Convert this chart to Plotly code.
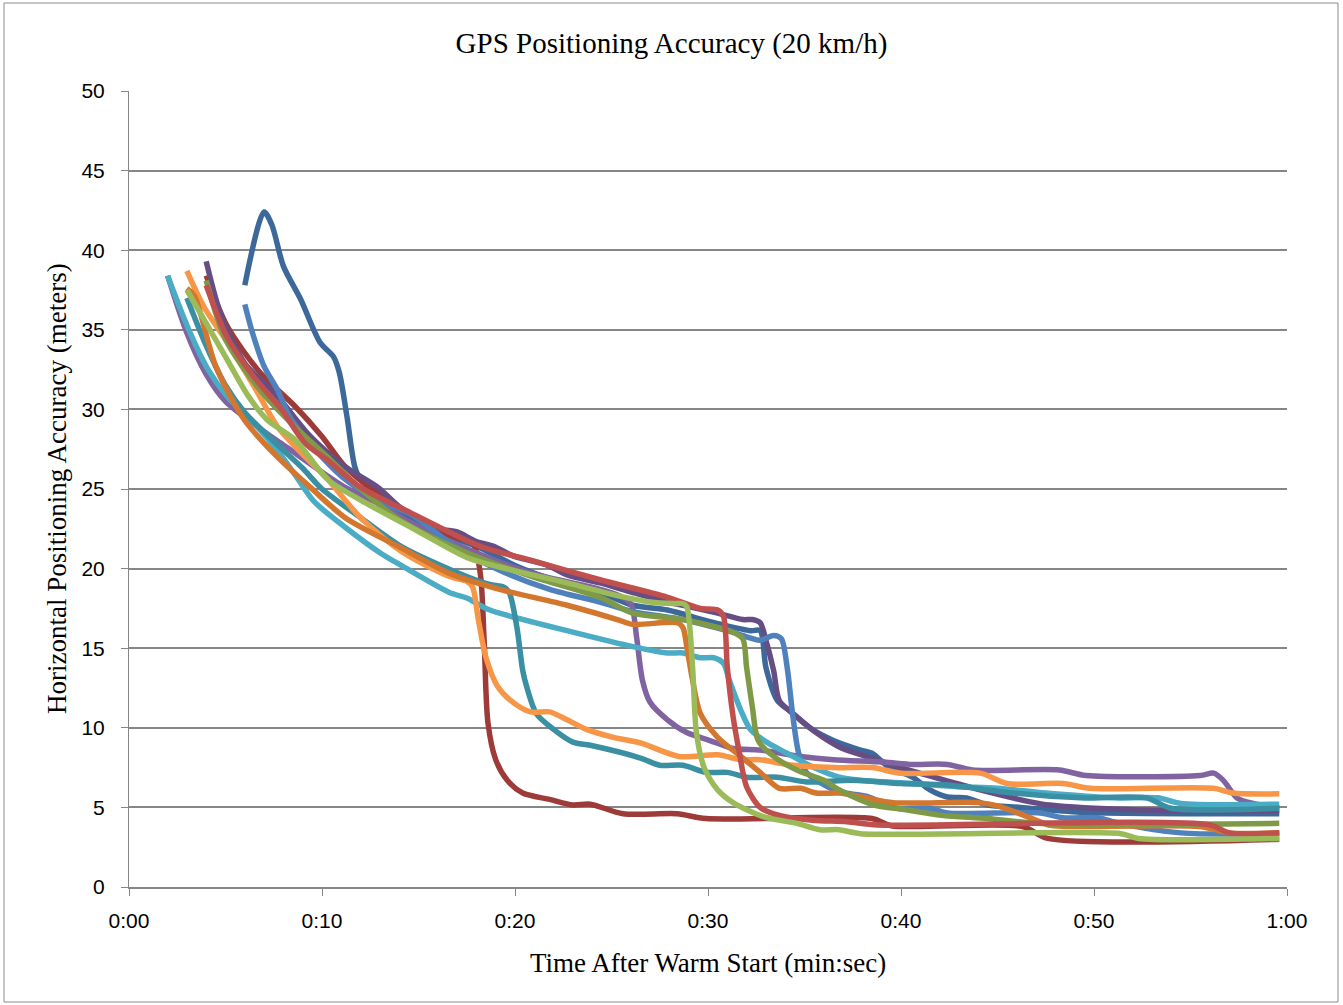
import plotly.graph_objects as go

# ---- data (seconds after warm start, horizontal accuracy in meters) ----
t_blue = [6, 6.4, 7, 7.7, 8.3, 9, 10, 11.2, 12.9, 14.6, 17, 19.2, 21.8, 24.4, 26.1, 28.7, 31.3, 32.7, 33.4, 33.8, 34.1, 34.4, 34.7, 35.1, 36.2, 37.2, 38.2, 39.8, 41.5, 42.4, 47.2, 48.4, 50.2, 51.3, 54.5, 59.6]
v_blue = [36.6, 34.8, 32.7, 31.2, 29.6, 28.4, 27.0, 25.6, 24.3, 23.4, 21.3, 19.9, 18.7, 17.9, 17.3, 16.8, 16.0, 15.5, 15.8, 15.6, 13.8, 10.7, 8.4, 7.2, 6.3, 5.9, 5.7, 4.95, 4.95, 4.65, 4.65, 4.35, 4.35, 4.0, 3.4, 3.35]

t_red = [4, 5.1, 6.5, 7.9, 9.1, 10.3, 12, 14.6, 18.2, 20.9, 24.4, 27.9, 29.6, 30.5, 30.8, 31.0, 31.3, 31.6, 32.0, 32.7, 33.7, 35.4, 37.2, 38.8, 56, 57, 59.6]
v_red = [37.8, 34.5, 32.0, 30.0, 27.9, 26.8, 25.1, 23.5, 21.4, 20.5, 19.3, 18.2, 17.5, 17.4, 17.0, 13.8, 10.7, 8.6, 6.3, 5.0, 4.5, 4.2, 4.1, 3.9, 3.9, 3.4, 3.4]

t_green = [3, 4.1, 5.1, 6.2, 7.2, 8.6, 10.3, 12, 14.6, 17.5, 19.2, 22.7, 25.3, 27, 28.2, 28.7, 28.9, 29.2, 29.4, 29.8, 30.5, 31.3, 32.9, 34.6, 35.8, 36.8, 37.9, 51.4, 52.3, 59.6]
v_green = [37.5, 35.2, 33.1, 30.8, 29.3, 28.1, 25.6, 24.3, 22.6, 20.7, 20.1, 19.1, 18.3, 17.9, 17.8, 17.8, 17.6, 13.8, 9.7, 7.5, 6.1, 5.3, 4.4, 4.0, 3.6, 3.6, 3.35, 3.35, 3.05, 3.05]

t_purple = [2, 3, 4, 5, 6.9, 8.2, 9.6, 11.2, 12.9, 14.6, 18, 20.9, 24.4, 25.4, 26, 26.3, 26.6, 27, 27.9, 28.9, 30.1, 31.3, 32.7, 34.8, 36.5, 39.1, 40.6, 42.4, 43.7, 48.2, 49.6, 55.5, 56.2, 56.7, 57.4, 57.9, 59.6]
v_purple = [38.4, 34.8, 32.2, 30.5, 28.7, 27.6, 26.4, 25.1, 24.1, 22.9, 21.0, 19.7, 18.7, 18.3, 17.8, 15.7, 13.0, 11.6, 10.5, 9.7, 9.2, 8.7, 8.6, 8.2, 8.0, 7.85, 7.7, 7.7, 7.35, 7.35, 7.0, 7.0, 7.15, 6.7, 5.6, 5.35, 4.95]

t_aqua = [2, 3.1, 4.1, 5.1, 6.5, 7.7, 8.6, 9.6, 11.2, 13, 14.1, 16.6, 17.5, 18.5, 19.2, 22.7, 26.1, 27.9, 28.7, 29.6, 30.3, 30.8, 31.1, 31.7, 32.2, 33.1, 34.1, 35.4, 36.8, 37.9, 40.6, 42.9, 45, 47.5, 51, 53.3, 54.5, 59.6]
v_aqua = [38.4, 35.0, 32.5, 30.8, 29.1, 27.4, 25.9, 24.2, 22.6, 21.0, 20.2, 18.5, 18.15, 17.5, 17.2, 16.1, 15.1, 14.7, 14.7, 14.4, 14.4, 14.05, 13.0, 11.1, 9.9, 9.05, 8.4, 7.55, 6.9, 6.7, 6.5, 6.3, 6.2, 5.9, 5.6, 5.6, 5.25, 5.2]

t_orange = [3, 3.9, 5.1, 6.5, 7.7, 8.9, 10.3, 12, 14.1, 16.6, 17.5, 17.8, 18.1, 18.5, 19.1, 19.9, 20.8, 21.8, 22.7, 23.7, 25.1, 26.5, 28.5, 30.5, 31.7, 32.7, 34.1, 36.5, 38.5, 40, 44.1, 45.5, 48.4, 49.8, 56.2, 57.2, 59.6]
v_orange = [38.7, 36.4, 34.2, 31.4, 28.9, 27.3, 25.6, 23.2, 21.1, 19.5, 19.2, 18.85, 16.8, 14.4, 12.6, 11.6, 11.0, 11.0, 10.5, 9.9, 9.4, 9.05, 8.2, 8.3, 8.0, 8.0, 7.7, 7.5, 7.5, 7.15, 7.15, 6.5, 6.5, 6.2, 6.2, 5.9, 5.85]

t_dblue = [6, 7, 7.4, 8, 8.9, 9.9, 10.6, 10.9, 11.3, 11.7, 12, 13, 14.1, 16, 18.2, 20, 22, 24.4, 26.1, 27.9, 30, 32.2, 32.7, 33, 33.6, 34.2, 35.4, 36.5, 37.9, 38.5, 39.3, 40.6, 41.5, 42.4, 43.4, 44.5, 46.2, 49.3, 59.6]
v_dblue = [37.8, 42.4, 41.6, 39.0, 36.9, 34.2, 33.3, 32.3, 29.5, 26.4, 25.6, 24.6, 23.5, 22.3, 21.3, 20.2, 19.3, 18.5, 17.7, 17.4, 16.7, 16.1, 16.1, 13.8, 11.7, 11.1, 9.9, 9.2, 8.6, 8.4, 7.6, 6.9, 6.1, 5.65, 5.6, 5.15, 5.0, 4.7, 4.6]

t_dred = [4, 5.1, 6.8, 8.6, 10, 11.2, 12.9, 15.1, 16.5, 17.8, 18.2, 18.4, 18.6, 19.0, 19.6, 20.4, 21.8, 23.0, 23.9, 25.6, 28.4, 29.9, 38.5, 39.5, 46.3, 47.6, 59.6]
v_dred = [38.4, 35.2, 32.3, 30.2, 28.3, 26.4, 24.7, 23.05, 22.1, 21.6, 19.7, 15.5, 10.3, 8.0, 6.7, 5.9, 5.5, 5.15, 5.2, 4.6, 4.6, 4.3, 4.3, 3.85, 3.8, 3.05, 3.0]

t_dgreen = [4, 5, 6.8, 8.6, 10.3, 12, 14.1, 17.5, 20.9, 24.4, 26.1, 28.7, 31.3, 31.8, 32.0, 32.3, 32.6, 33.4, 34.6, 36, 36.8, 38.6, 40, 42.1, 44.5, 47, 59.6]
v_dgreen = [38.1, 34.4, 31.2, 28.9, 27.0, 25.0, 23.0, 21.0, 19.5, 18.2, 17.2, 16.8, 16.0, 15.6, 13.8, 11.3, 9.2, 8.2, 7.35, 6.7, 6.1, 5.15, 4.9, 4.5, 4.3, 4.0, 4.0]

t_dpurple = [4, 4.8, 6, 7.7, 9.4, 11.2, 12.9, 14.1, 16.1, 17, 18, 18.9, 19.9, 21.7, 22.7, 24.4, 26.1, 27.9, 28.7, 30.5, 31.8, 32.3, 32.7, 33.0, 33.4, 33.7, 34.4, 35.6, 36.8, 38.2, 40, 42, 44.1, 46.7, 47.7, 52, 59.6]
v_dpurple = [39.3, 35.8, 32.9, 30.8, 28.3, 26.4, 25.1, 23.8, 22.5, 22.3, 21.7, 21.4, 20.8, 20.2, 19.6, 19.1, 18.5, 17.9, 17.7, 17.2, 16.8, 16.8, 16.6, 15.5, 13.6, 11.7, 10.9, 9.7, 8.8, 8.2, 7.5, 6.8, 6.1, 5.35, 5.15, 4.85, 4.8]

t_daqua = [3, 4, 5, 6, 7.5, 9, 10, 12, 14.1, 17.5, 18.7, 19.4, 19.7, 20.1, 20.4, 20.6, 21.1, 22, 23, 23.9, 26.5, 27.5, 28.7, 29.9, 31, 32, 33.6, 35.1, 37.5, 40, 42.4, 45.8, 49.3, 52.7, 54, 59.6]
v_daqua = [37.0, 34.0, 31.5, 29.8, 28.0, 26.3, 25.0, 23.2, 21.4, 19.5, 19.0, 18.85, 18.5, 16.3, 13.6, 12.6, 10.9, 9.9, 9.1, 8.9, 8.1, 7.65, 7.65, 7.2, 7.2, 6.9, 6.9, 6.6, 6.7, 6.5, 6.4, 5.9, 5.6, 5.6, 4.95, 4.95]

t_dorange = [3, 3.4, 4.5, 6, 7.7, 9.4, 11.2, 14.1, 16.6, 19.2, 22.7, 25.3, 26.1, 28.4, 28.7, 28.9, 29.2, 29.6, 30.5, 31.7, 32.7, 33.7, 34.8, 35.6, 36.8, 38.2, 39.6, 44, 45, 47.2, 47.6, 48.5, 55.5, 57, 59.6]
v_dorange = [37.6, 37.1, 32.7, 29.3, 27.0, 25.1, 23.2, 21.3, 19.7, 18.7, 17.7, 16.8, 16.5, 16.6, 16.3, 15.1, 13.0, 10.9, 9.4, 8.2, 7.2, 6.2, 6.2, 5.9, 5.9, 5.6, 5.3, 5.3, 5.1, 4.1, 3.9, 3.8, 3.8, 3.4, 3.4]

x_tickvals = [0, 10, 20, 30, 40, 50, 60]
x_ticktext = ["0:00", "0:10", "0:20", "0:30", "0:40", "0:50", "1:00"]

# drawing order (later = on top)
series = [
    ("Series 7", t_dblue, v_dblue, "#3C689A"),
    ("Series 8", t_dred, v_dred, "#9D3B38"),
    ("Series 10", t_dpurple, v_dpurple, "#664E85"),
    ("Series 4", t_purple, v_purple, "#8064A2"),
    ("Series 1", t_blue, v_blue, "#4F81BD"),
    ("Series 5", t_aqua, v_aqua, "#4BACC6"),
    ("Series 11", t_daqua, v_daqua, "#3A8FA3"),
    ("Series 6", t_orange, v_orange, "#F79646"),
    ("Series 12", t_dorange, v_dorange, "#D3772E"),
    ("Series 9", t_dgreen, v_dgreen, "#7E9A47"),
    ("Series 2", t_red, v_red, "#C0504D"),
    ("Series 3", t_green, v_green, "#9BBB59"),
]

fig = go.Figure()
for name, t, v, c in series:
    fig.add_trace(go.Scatter(x=t, y=v, mode="lines", name=name,
                             line=dict(color=c, width=5.5, shape="spline", smoothing=0.8)))

W, H = 1343, 1005
L, R, T, B = 129, 1287, 91, 887
def px(x):
    return (x - L) / (R - L)
def py(y):
    return (B - y) / (B - T)

grid = "#868686"
fig.update_layout(
    width=W, height=H,
    margin=dict(l=L, r=W - R, t=T, b=H - B),
    paper_bgcolor="white", plot_bgcolor="white",
    showlegend=False,
    title=dict(text="GPS Positioning Accuracy (20 km/h)", x=0.5, xref="container",
               y=1 - 43 / H, yref="container", xanchor="center", yanchor="middle",
               font=dict(family="Liberation Serif", size=29, color="black")),
    xaxis=dict(range=[0, 60], tickvals=x_tickvals, ticktext=x_ticktext,
               showgrid=False, zeroline=False, showline=True, linecolor=grid, linewidth=1.5,
               ticks="outside", ticklen=7, tickcolor=grid, tickwidth=1,
               tickfont=dict(family="Liberation Sans", size=21, color="black"),
               ticklabelstandoff=7),
    yaxis=dict(range=[0, 50], dtick=5, tick0=0,
               showgrid=True, gridcolor=grid, gridwidth=2, zeroline=False,
               showline=True, linecolor=grid, linewidth=1,
               ticks="outside", ticklen=7, tickcolor=grid, tickwidth=1,
               tickfont=dict(family="Liberation Sans", size=21, color="black"),
               ticklabelstandoff=12),
    annotations=[
        dict(text="Time After Warm Start (min:sec)", xref="paper", yref="paper",
             x=px(708), y=py(963), xanchor="center", yanchor="middle", showarrow=False,
             font=dict(family="Liberation Serif", size=27, color="black")),
        dict(text="Horizontal Positioning Accuracy (meters)", xref="paper", yref="paper",
             x=px(57), y=py(489), xanchor="center", yanchor="middle", showarrow=False,
             textangle=-90, font=dict(family="Liberation Serif", size=27, color="black")),
    ],
    shapes=[dict(type="rect", xref="paper", yref="paper",
                 x0=px(4), x1=px(1338), y0=py(1002), y1=py(3),
                 line=dict(color="#8c8c8c", width=1), fillcolor="rgba(0,0,0,0)", layer="below")],
)

fig.write_html("out.html", config={"displayModeBar": False},
               post_script="document.body.style.margin='0';")
